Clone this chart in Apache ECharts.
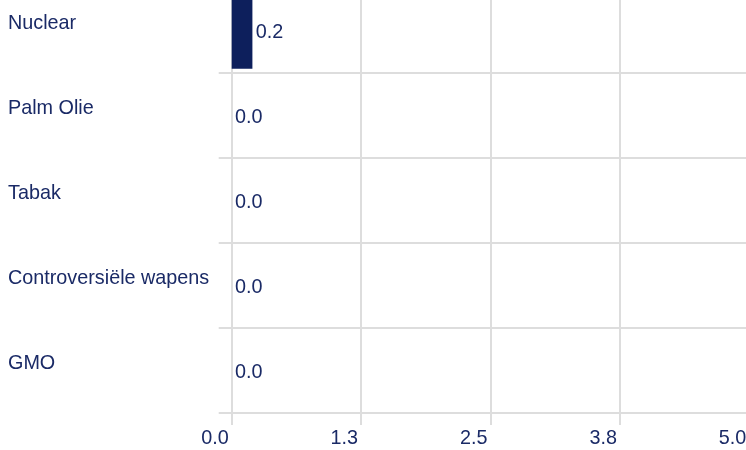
<!DOCTYPE html>
<html>
<head>
<meta charset="utf-8">
<script src="https://cdn.jsdelivr.net/npm/echarts@6/dist/echarts.min.js"></script>
<style>
html,body{margin:0;padding:0;background:#fff;overflow:hidden;width:746px;height:450px;}
#chart{width:760px;height:462px;position:absolute;left:0;top:-12px;}
</style>
</head>
<body>
<div id="chart"></div>
<script>
var categories = ["Nuclear", "Palm Olie", "Tabak", "Controversiële wapens", "GMO"];
var values = [0.2, 0.0, 0.0, 0.0, 0.0];
var xTicks = [0, 1.25, 2.5, 3.75, 5];

var navy = '#0d1f5c';
var textNavy = '#1a2a66';
var gridColor = '#dddddd';
var font = 'Liberation Sans, Arial, sans-serif';
var fs = 19.8;

var chart = echarts.init(document.getElementById('chart'));
chart.setOption({
  animation: false,
  grid: { left: 231.7, right: 10.7, top: 0, bottom: 37, containLabel: false },
  xAxis: {
    type: 'value',
    min: xTicks[0],
    max: xTicks[xTicks.length - 1],
    interval: xTicks[1] - xTicks[0],
    axisLine: { show: false },
    axisTick: { show: true, length: 12, lineStyle: { color: gridColor, width: 2 } },
    splitLine: { show: true, lineStyle: { color: gridColor, width: 2 } },
    axisLabel: {
      color: textNavy, fontSize: fs, fontFamily: font,
      align: 'right', padding: [0, 3, 0, 0], margin: 15.5,
      showMinLabel: true, showMaxLabel: true,
      formatter: function (v) { return v.toFixed(1); }
    }
  },
  yAxis: {
    type: 'category',
    inverse: true,
    data: categories,
    axisLine: { show: false },
    axisTick: { show: true, length: 13, lineStyle: { color: gridColor, width: 2 } },
    splitLine: { show: true, lineStyle: { color: gridColor, width: 2 } },
    axisLabel: {
      color: textNavy, fontSize: fs, fontFamily: font,
      align: 'left', verticalAlign: 'bottom', lineHeight: 14, margin: 223.7
    }
  },
  series: [{
    type: 'bar',
    data: values,
    barCategoryGap: '10%',
    itemStyle: { color: navy },
    label: {
      show: true, position: 'right', distance: 3.3, offset: [0, 2.5],
      color: textNavy, fontSize: fs, fontFamily: font,
      formatter: function (p) { return p.value.toFixed(1); }
    }
  }]
});
</script>
</body>
</html>
